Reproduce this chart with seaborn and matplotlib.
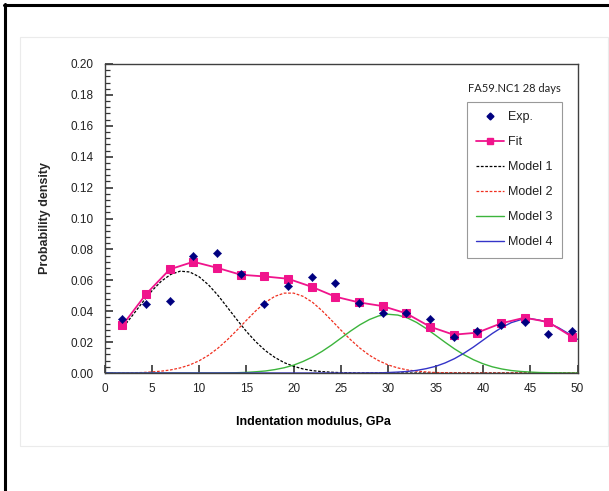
import matplotlib
matplotlib.use("Agg")
import matplotlib.pyplot as plt
from matplotlib.lines import Line2D
from matplotlib.patches import Rectangle
from matplotlib.ticker import MultipleLocator, FormatStrFormatter
import seaborn as sns
import pandas as pd

# ---------------- data ----------------
exp_x = [1.9, 4.4, 6.9, 9.4, 11.9, 14.4, 16.9, 19.4, 21.9, 24.4,
         26.9, 29.4, 31.9, 34.4, 36.9, 39.4, 41.9, 44.4, 46.9, 49.4]
exp_y = [0.0349, 0.0446, 0.0468, 0.0757, 0.0779, 0.0638, 0.0446, 0.0563, 0.0623, 0.0584,
         0.0451, 0.0390, 0.0390, 0.0347, 0.0235, 0.0270, 0.0309, 0.0330, 0.0252, 0.0270]
fit_y = [0.0309, 0.0511, 0.0671, 0.0720, 0.0681, 0.0636, 0.0625, 0.0610, 0.0558, 0.0494,
         0.0457, 0.0433, 0.0386, 0.0300, 0.0248, 0.0261, 0.0321, 0.0358, 0.0330, 0.0235]

model1_x = list(range(2, 51))
model1 = [0.0298, 0.0376, 0.0456, 0.0531, 0.0594, 0.0638, 0.0659, 0.0654, 0.0623, 0.0570,
          0.0502, 0.0424, 0.0345, 0.0269, 0.0202, 0.0145, 0.0101, 0.0067, 0.0043, 0.0026,
          0.0015, 0.0009, 0.0005, 0.0002, 0.0001, 0.0, 0.0, 0.0, 0.0, 0.0,
          0.0, 0.0, 0.0, 0.0, 0.0, 0.0, 0.0, 0.0, 0.0, 0.0,
          0.0, 0.0, 0.0, 0.0, 0.0, 0.0, 0.0, 0.0, 0.0]
model_x = list(range(0, 51))
model2 = [0.0, 0.0,
          0.0001, 0.0002, 0.0003, 0.0007, 0.0012, 0.0020, 0.0033, 0.0052, 0.0079, 0.0115,
          0.0161, 0.0216, 0.0277, 0.0341, 0.0403, 0.0457, 0.0496, 0.0517, 0.0517, 0.0496,
          0.0457, 0.0403, 0.0341, 0.0277, 0.0216, 0.0161, 0.0115, 0.0079, 0.0052, 0.0033,
          0.0020, 0.0012, 0.0007, 0.0003, 0.0002, 0.0001, 0.0, 0.0, 0.0, 0.0,
          0.0, 0.0, 0.0, 0.0, 0.0, 0.0, 0.0, 0.0, 0.0]
model3 = [0.0, 0.0,
          0.0, 0.0, 0.0, 0.0, 0.0, 0.0, 0.0, 0.0, 0.0, 0.0,
          0.0, 0.0001, 0.0002, 0.0004, 0.0008, 0.0013, 0.0022, 0.0034, 0.0051, 0.0075,
          0.0104, 0.0140, 0.0181, 0.0226, 0.0271, 0.0312, 0.0346, 0.0370, 0.0380, 0.0375,
          0.0357, 0.0327, 0.0288, 0.0244, 0.0199, 0.0156, 0.0118, 0.0086, 0.0060, 0.0040,
          0.0026, 0.0016, 0.0010, 0.0006, 0.0003, 0.0002, 0.0001, 0.0, 0.0]
model4 = [0.0, 0.0,
          0.0, 0.0, 0.0, 0.0, 0.0, 0.0, 0.0, 0.0, 0.0, 0.0,
          0.0, 0.0, 0.0, 0.0, 0.0, 0.0, 0.0, 0.0, 0.0, 0.0,
          0.0, 0.0, 0.0, 0.0, 0.0, 0.0, 0.0001, 0.0001, 0.0003, 0.0006,
          0.0010, 0.0017, 0.0028, 0.0043, 0.0065, 0.0093, 0.0128, 0.0168, 0.0212, 0.0256,
          0.0295, 0.0326, 0.0345, 0.0352, 0.0342, 0.0322, 0.0293, 0.0257, 0.0218]

x_ticks = [0, 5, 10, 15, 20, 25, 30, 35, 40, 45, 50]
x_label = "Indentation modulus, GPa"
y_label = "Probability density"
panel_title = "FA59.NC1 28 days"
series_labels = ["Exp.", "Fit", "Model 1", "Model 2", "Model 3", "Model 4"]

# ---------------- style ----------------
sns.set_style("ticks", {"xtick.direction": "in", "ytick.direction": "in"})
plt.rcParams["font.family"] = ["Liberation Sans", "DejaVu Sans"]
plt.rcParams.update({
    "xtick.major.size": 5.5, "ytick.major.size": 5.5, "ytick.minor.size": 3.5,
    "xtick.major.width": 1.1, "ytick.major.width": 1.1, "ytick.minor.width": 0.9,
    "xtick.color": "#222222", "ytick.color": "#222222",
    "xtick.bottom": True, "ytick.left": True,
})

W, H = 609, 491
fig = plt.figure(figsize=(W / 100, H / 100), dpi=100)
ax = fig.add_axes([104.5 / W, 1 - 373 / H, (577.5 - 104.5) / W, (373 - 64) / H])

c_exp = "#000080"
c_fit = "#F0148C"
c_m1 = "#000000"
c_m2 = "#F03020"
c_m3 = "#3CB43C"
c_m4 = "#3434C8"

df_m1 = pd.DataFrame({"x": model1_x, "m1": model1})
df_m = pd.DataFrame({"x": model_x, "m2": model2, "m3": model3, "m4": model4})
df_e = pd.DataFrame({"x": exp_x, "exp": exp_y, "fit": fit_y})

sns.lineplot(data=df_m1, x="x", y="m1", ax=ax, color=c_m1, lw=0.9,
             linestyle=(0, (2.2, 1.3)), zorder=2)
sns.lineplot(data=df_m, x="x", y="m2", ax=ax, color=c_m2, lw=0.9,
             linestyle=(0, (2.2, 1.3)), zorder=2)
sns.lineplot(data=df_m, x="x", y="m3", ax=ax, color=c_m3, lw=1.0, zorder=2)
sns.lineplot(data=df_m, x="x", y="m4", ax=ax, color=c_m4, lw=1.0, zorder=2)
sns.lineplot(data=df_e, x="x", y="fit", ax=ax, color=c_fit, lw=1.3, marker="s",
             markersize=5.5, markeredgecolor=c_fit, zorder=3)
sns.scatterplot(data=df_e, x="x", y="exp", ax=ax, color=c_exp, marker="D", s=18,
                edgecolor=c_exp, linewidth=0.3, zorder=4)

ax.set_xlim(0, 50)
ax.set_ylim(0, 0.20)
ax.set_xticks(x_ticks)
ax.yaxis.set_major_locator(MultipleLocator(0.02))
ax.yaxis.set_minor_locator(MultipleLocator(0.004))
ax.yaxis.set_major_formatter(FormatStrFormatter("%.2f"))
for sp in ax.spines.values():
    sp.set_visible(True)
    sp.set_color("#404040")
    sp.set_linewidth(1.0)
ax.set_xlabel("")
ax.set_ylabel(y_label, fontsize=9, fontweight="bold", labelpad=14)
ax.tick_params(axis="both", which="major", direction="in", length=5.5, width=1.1,
               colors="#222222", labelsize=8.5, pad=7,
               left=True, bottom=True, top=False, right=False)
ax.tick_params(axis="y", which="minor", direction="in", length=3.5, width=0.9,
               colors="#333333", left=True, right=False)
ax.tick_params(axis="y", which="major", pad=8)

fig.text(313 / W, 1 - 422 / H, x_label, fontsize=9, fontweight="bold",
         ha="center", va="center", color="black")

# legend
handles = [
    Line2D([], [], color=c_exp, marker="D", markersize=3.5, linestyle="none"),
    Line2D([], [], color=c_fit, marker="s", markersize=5, lw=1.3),
    Line2D([], [], color=c_m1, lw=0.9, linestyle=(0, (2.2, 1.3))),
    Line2D([], [], color=c_m2, lw=0.9, linestyle=(0, (2.2, 1.3))),
    Line2D([], [], color=c_m3, lw=1.0),
    Line2D([], [], color=c_m4, lw=1.0),
]
leg = ax.legend(handles, series_labels, loc="upper left",
                bbox_to_anchor=(467 / W, 1 - 102 / H), bbox_transform=fig.transFigure,
                fontsize=9, frameon=True, fancybox=False, edgecolor="#808080",
                handlelength=2.2, handletextpad=0.3, labelspacing=1.04,
                borderpad=0.75, borderaxespad=0)
leg.get_frame().set_linewidth(0.8)
for t in leg.get_texts():
    t.set_color("#222222")

fig.text(514 / W, 1 - 88 / H, panel_title, fontsize=8, ha="center", va="center",
         color="#222222", family=["Lato", "DejaVu Sans"])

# chart-area faint rectangle and page border
fig.add_artist(Rectangle((20 / W, 1 - 446 / H), (608 - 20) / W, (446 - 37) / H,
                         transform=fig.transFigure, fill=False, edgecolor="#EBEBEB", lw=0.8))
fig.add_artist(Line2D([5 / W, 5 / W], [0, 1 - 4 / H], transform=fig.transFigure,
                      color="black", lw=2.2))
fig.add_artist(Line2D([4 / W, 1], [1 - 5 / H, 1 - 5 / H], transform=fig.transFigure,
                      color="black", lw=2.2))

fig.savefig("out.png", dpi=100, facecolor="white")
